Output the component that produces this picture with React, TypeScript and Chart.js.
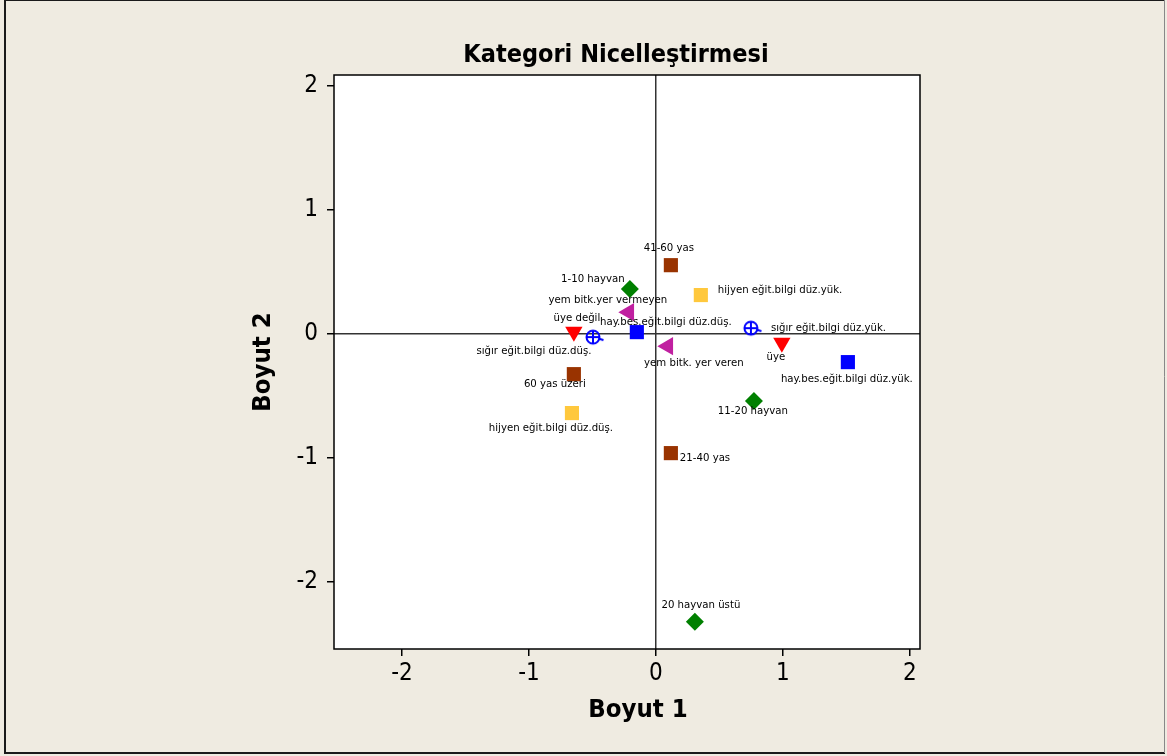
import { useEffect, useRef } from "react";
import { Chart, registerables } from "chart.js";

Chart.register(...registerables);

// ---------- data ----------
const ageLabels = ["41-60 yas", "60 yas üzeri", "21-40 yas"];
const ageX = [0.118, -0.646, 0.118];
const ageY = [0.556, -0.323, -0.96];

const herdLabels = ["1-10 hayvan", "11-20 hayvan", "20 hayvan üstü"];
const herdX = [-0.205, 0.772, 0.307];
const herdY = [0.363, -0.54, -2.32];

const hygieneLabels = ["hijyen eğit.bilgi düz.yük.", "hijyen eğit.bilgi düz.düş."];
const hygieneX = [0.354, -0.661];
const hygieneY = [0.315, -0.637];

const feedLabels = ["yem bitk.yer vermeyen", "yem bitk. yer veren"];
const feedX = [-0.213, 0.094];
const feedY = [0.177, -0.097];

const memberLabels = ["üye değil", "üye"];
const memberX = [-0.646, 0.992];
const memberY = [0.02, -0.07];

const cattleLabels = ["sığır eğit.bilgi düz.düş.", "sığır eğit.bilgi düz.yük."];
const cattleX = [-0.48, 0.764];
const cattleY = [-0.024, 0.048];

const husbandryLabels = ["hay.bes.eğit.bilgi düz.düş.", "hay.bes.eğit.bilgi düz.yük."];
const husbandryX = [-0.15, 1.512];
const husbandryY = [0.016, -0.226];

const xTicks = [-2, -1, 0, 1, 2];
const yTicks = [-2, -1, 0, 1, 2];

const chartTitle = "Kategori Nicelleştirmesi";
const xTitle = "Boyut 1";
const yTitle = "Boyut 2";

// label placement (pixel offsets from marker, alignment)
const labelPlacement: Record<string, [number, number, CanvasTextAlign]> = {
  "41-60 yas": [-2, -17, "center"],
  "60 yas üzeri": [-19, 10, "center"],
  "21-40 yas": [9, 5, "left"],
  "1-10 hayvan": [-37, -10, "center"],
  "11-20 hayvan": [-1, 10, "center"],
  "20 hayvan üstü": [6, -17, "center"],
  "hijyen eğit.bilgi düz.yük.": [17, -5, "left"],
  "hijyen eğit.bilgi düz.düş.": [-21, 15, "center"],
  "yem bitk.yer vermeyen": [-21, -12, "center"],
  "yem bitk. yer veren": [26, 17, "center"],
  "üye değil": [3, -14, "center"],
  "üye": [-6, 14, "center"],
  "sığır eğit.bilgi düz.düş.": [-61, 14, "center"],
  "sığır eğit.bilgi düz.yük.": [18, 0, "left"],
  "hay.bes.eğit.bilgi düz.düş.": [29, -10, "center"],
  "hay.bes.eğit.bilgi düz.yük.": [-1, 17, "center"],
};

const FONT = "'DejaVu Sans Condensed', 'DejaVu Sans', Tahoma, sans-serif";

function makeCirclePlus(color: string): HTMLCanvasElement {
  const c = document.createElement("canvas");
  c.width = 24;
  c.height = 20;
  const g = c.getContext("2d")!;
  g.strokeStyle = color;
  g.lineWidth = 2;
  const cx = 10, cy = 10, r = 6.5;
  g.beginPath();
  g.arc(cx, cy, r, 0, Math.PI * 2);
  g.stroke();
  g.beginPath();
  g.moveTo(cx - r, cy);
  g.lineTo(cx + r, cy);
  g.moveTo(cx, cy - r);
  g.lineTo(cx, cy + r);
  g.moveTo(cx + r - 1, cy + 1.5);
  g.lineTo(cx + r + 4, cy + 3);
  g.stroke();
  return c;
}

function toPoints(xs: number[], ys: number[], labels: string[]) {
  return xs.map((x, i) => ({ x, y: ys[i], label: labels[i] }));
}

export default function App() {
  const ref = useRef<HTMLCanvasElement>(null);

  useEffect(() => {
    document.body.style.margin = "0";
    const canvas = ref.current!;
    const circlePlus = makeCirclePlus("#0000FF");

    const framePlugin = {
      id: "frame",
      beforeDraw(chart: any) {
        const { ctx, chartArea: a, width, height } = chart;
        ctx.save();
        ctx.fillStyle = "#EFEBE1";
        ctx.fillRect(0, 0, width, height);
        ctx.fillStyle = "#FFFFFF";
        ctx.fillRect(a.left, a.top, a.right - a.left, a.bottom - a.top);
        // outer border
        ctx.strokeStyle = "#1a1a1a";
        ctx.lineWidth = 2;
        ctx.beginPath();
        ctx.moveTo(5, 0);
        ctx.lineTo(5, 753);
        ctx.lineTo(1165, 753);
        ctx.stroke();
        ctx.lineWidth = 1;
        ctx.beginPath();
        ctx.moveTo(5, 0.5);
        ctx.lineTo(1165, 0.5);
        ctx.stroke();
        ctx.strokeStyle = "#888";
        ctx.beginPath();
        ctx.moveTo(1164.5, 0);
        ctx.lineTo(1164.5, 753);
        ctx.stroke();
        ctx.restore();
      },
      afterDraw(chart: any) {
        const { ctx, chartArea: a } = chart;
        ctx.save();
        // labels
        ctx.fillStyle = "#000";
        ctx.font = `11.3px ${FONT}`;
        ctx.textBaseline = "middle";
        chart.data.datasets.forEach((ds: any, di: number) => {
          const meta = chart.getDatasetMeta(di);
          ds.data.forEach((p: any, i: number) => {
            const el = meta.data[i];
            const pl = labelPlacement[p.label] || [0, -12, "center"];
            ctx.textAlign = pl[2];
            ctx.fillText(p.label, el.x + pl[0], el.y + pl[1]);
          });
        });
        // frame
        ctx.strokeStyle = "#000";
        ctx.lineWidth = 1.5;
        ctx.strokeRect(a.left, a.top, a.right - a.left, a.bottom - a.top);
        // titles
        ctx.fillStyle = "#000";
        ctx.textAlign = "center";
        ctx.textBaseline = "middle";
        ctx.font = `bold 25px ${FONT}`;
        ctx.fillText(chartTitle, 616, 55);
        ctx.font = `bold 25.5px ${FONT}`;
        ctx.fillText(xTitle, 638, 710);
        ctx.translate(263, 362);
        ctx.rotate(-Math.PI / 2);
        ctx.fillText(yTitle, 0, 0);
        ctx.restore();
      },
    };

    const mk = (data: any[], color: string, style: any, rotation = 0, radius = 7) => ({
      data,
      pointStyle: style,
      rotation,
      pointRadius: radius,
      pointHoverRadius: radius,
      backgroundColor: color,
      borderColor: color,
      borderWidth: 0,
      showLine: false,
    });

    const chart = new Chart(canvas, {
      type: "scatter",
      data: {
        datasets: [
          mk(toPoints(ageX, ageY, ageLabels), "#993300", "rect", 0, 10),
          mk(toPoints(herdX, herdY, herdLabels), "#008000", "rectRot", 0, 9),
          mk(toPoints(hygieneX, hygieneY, hygieneLabels), "#FFC83D", "rect", 0, 10),
          mk(toPoints(feedX, feedY, feedLabels), "#C020A0", "triangle", -90, 10.5),
          mk(toPoints(memberX, memberY, memberLabels), "#FF0000", "triangle", 180, 10),
          mk(toPoints(cattleX, cattleY, cattleLabels), "#0000FF", circlePlus, 0, 8),
          mk(toPoints(husbandryX, husbandryY, husbandryLabels), "#0000FF", "rect", 0, 10),
        ] as any,
      },
      options: {
        responsive: false,
        animation: false,
        events: [],
        layout: { padding: { left: 0, top: 75, right: 1167 - 920, bottom: 0 } },
        plugins: { legend: { display: false }, tooltip: { enabled: false }, title: { display: false } },
        scales: {
          x: {
            type: "linear",
            min: -2.535,
            max: 2.08,
            afterFit: (s: any) => { s.height = 756 - 649; },
            afterBuildTicks: (s: any) => { s.ticks = xTicks.map((v) => ({ value: v })); },
            ticks: {
              includeBounds: false,
              color: "#000",
              font: { family: FONT, size: 24 },
              padding: 3,
              callback: (v: any) => String(v),
            },
            grid: {
              color: (c: any) => (c.tick && c.tick.value === 0 ? "#333" : "rgba(0,0,0,0)"),
              lineWidth: 1.5,
              tickColor: "#000",
              tickLength: 7,
            },
            border: { display: false },
          },
          y: {
            type: "linear",
            min: -2.54,
            max: 2.09,
            afterFit: (s: any) => { s.width = 334; },
            afterBuildTicks: (s: any) => { s.ticks = yTicks.map((v) => ({ value: v })); },
            ticks: {
              includeBounds: false,
              color: "#000",
              font: { family: FONT, size: 24 },
              padding: 9,
              callback: (v: any) => String(v),
            },
            grid: {
              color: (c: any) => (c.tick && c.tick.value === 0 ? "#333" : "rgba(0,0,0,0)"),
              lineWidth: 1.5,
              tickColor: "#000",
              tickLength: 7,
            },
            border: { display: false },
          },
        },
      },
      plugins: [framePlugin],
    });

    return () => chart.destroy();
  }, []);

  return <canvas ref={ref} width={1167} height={756} style={{ display: "block" }} />;
}
